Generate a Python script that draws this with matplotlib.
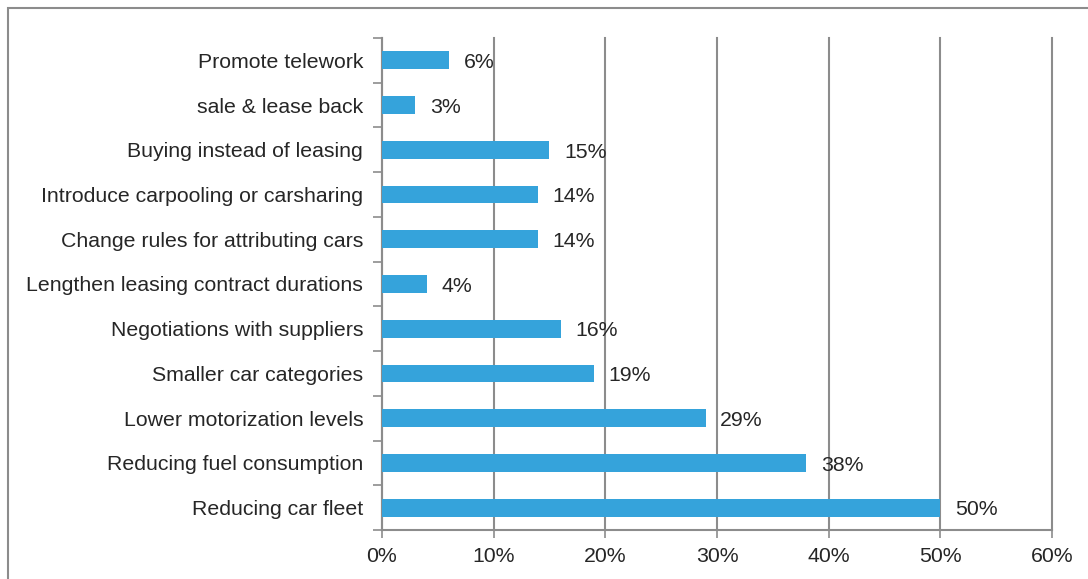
import matplotlib.pyplot as plt
import numpy as np
from matplotlib.patches import Rectangle
from matplotlib.ticker import FixedLocator, FuncFormatter

plt.rcParams['font.family'] = ['Liberation Sans', 'DejaVu Sans']

# measures, bottom to top
measures = [
    'Reducing car fleet',
    'Reducing fuel consumption',
    'Lower motorization levels',
    'Smaller car categories',
    'Negotiations with suppliers',
    'Lengthen leasing contract durations',
    'Change rules for attributing cars',
    'Introduce carpooling or carsharing',
    'Buying instead of leasing',
    'sale & lease back',
    'Promote telework',
]
shares = [50, 38, 29, 19, 16, 4, 14, 14, 15, 3, 6]

bar_color = '#35a3db'
line_color = '#8c8c8c'
text_color = '#262626'
fs = 15.3

fig = plt.figure(figsize=(10.88, 5.79), dpi=100)
ax = fig.add_axes([0.3511, 0.0846, 0.6158, 0.8498])

# outer frame around the chart area
fig.patches.append(Rectangle((8 / 1088, -0.05), 1.2, 1 - 8 / 579 + 0.05,
                             transform=fig.transFigure, fill=False,
                             edgecolor=line_color, linewidth=1.5))

y = np.arange(len(measures))
ax.barh(y, shares, height=0.4, color=bar_color, zorder=3)

for yi, v in zip(y, shares):
    ax.text(v + 1.3, yi - 0.05, f'{v}%', va='center', ha='left',
            fontsize=fs, color=text_color)

ax.set_xlim(0, 60)
ax.set_ylim(-0.5, len(measures) - 0.5)
ax.set_xticks(np.arange(0, 61, 10))
ax.xaxis.set_major_formatter(FuncFormatter(lambda v, _: f'{v:.0f}%'))
ax.set_yticks(y)
ax.set_yticklabels(measures)
ax.yaxis.set_minor_locator(FixedLocator(np.arange(-0.5, len(measures), 1)))

ax.tick_params(axis='y', which='major', length=0, pad=13.5,
               labelsize=fs, labelcolor=text_color)
ax.tick_params(axis='y', which='minor', length=6.5, width=1.2,
               color=line_color)
ax.tick_params(axis='x', length=6, width=1.2, color=line_color,
               labelsize=fs, labelcolor=text_color, pad=6)

ax.grid(axis='x', color=line_color, linewidth=1.5, zorder=0)
for gl in ax.get_xgridlines():
    gl.set_clip_on(False)
for side in ('top', 'right'):
    ax.spines[side].set_visible(False)
for side in ('left', 'bottom'):
    ax.spines[side].set_color(line_color)
    ax.spines[side].set_linewidth(1.5)

fig.savefig('out.png', dpi=100)
